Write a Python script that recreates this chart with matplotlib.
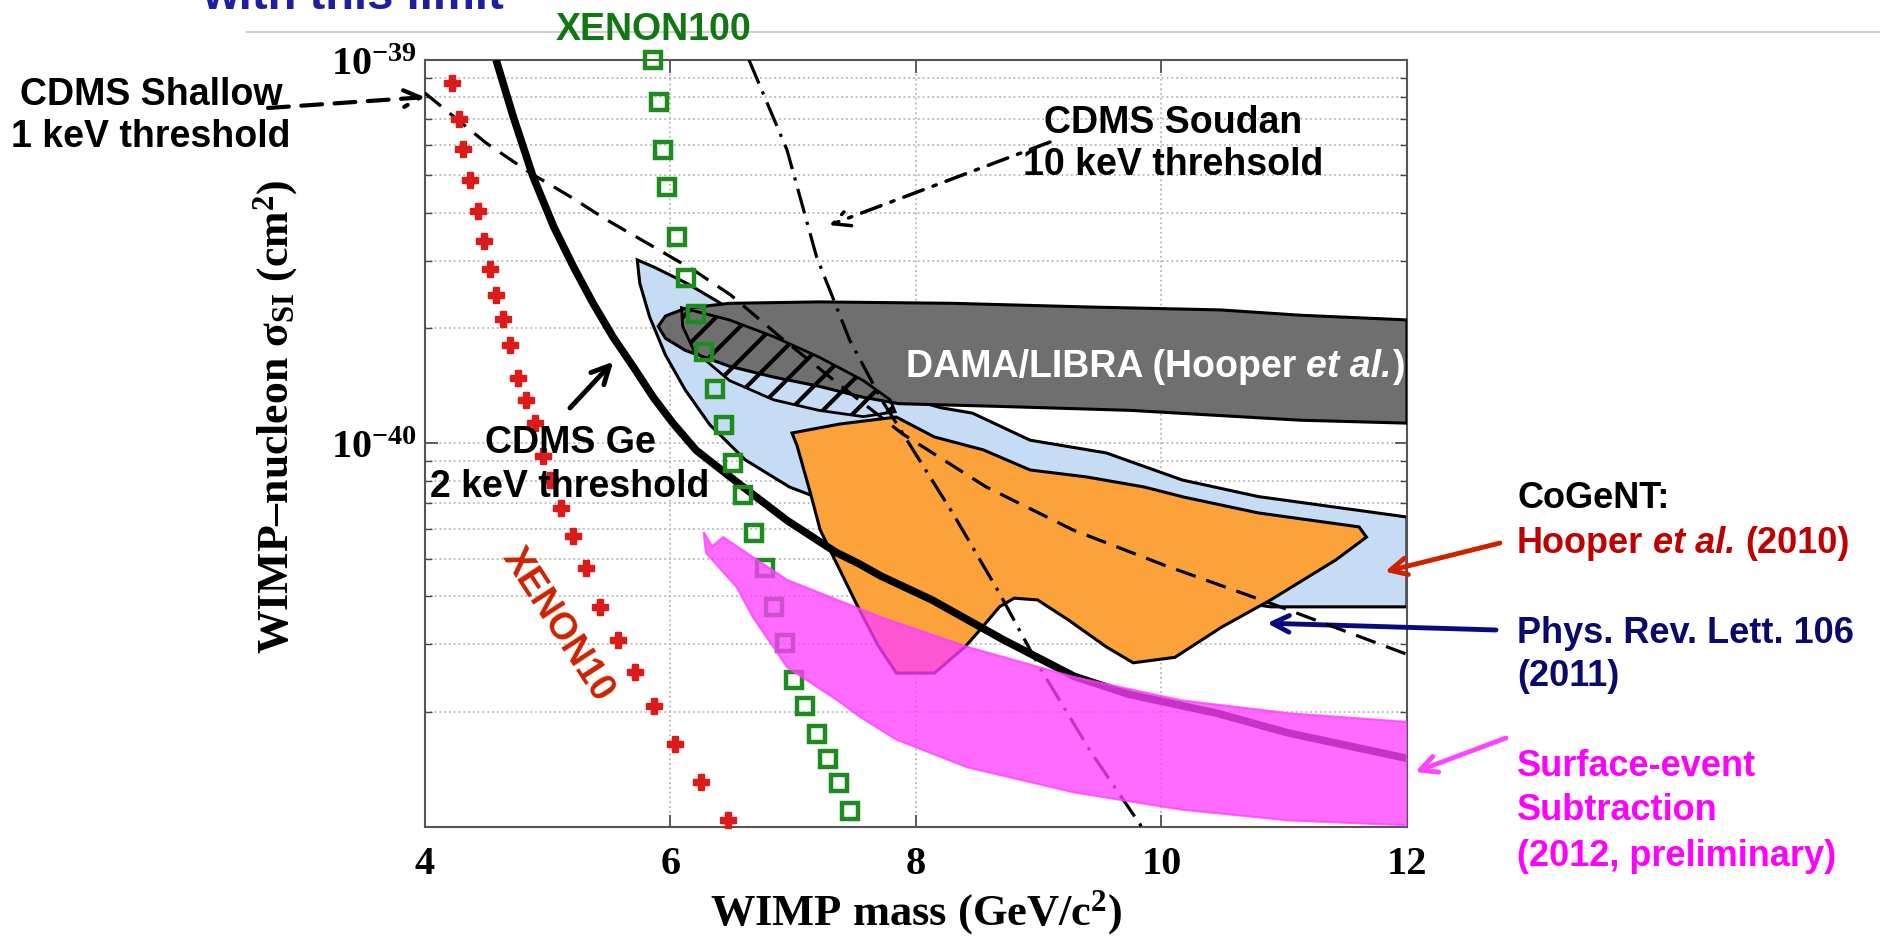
import numpy as np
import matplotlib
matplotlib.use('Agg')
import matplotlib.pyplot as plt
from matplotlib.lines import Line2D
from matplotlib.ticker import NullLocator, NullFormatter

plt.rcParams['font.family'] = ['Liberation Sans', 'DejaVu Sans']
plt.rcParams['font.weight'] = 'bold'
plt.rcParams['mathtext.fontset'] = 'custom'
plt.rcParams['mathtext.rm'] = 'Liberation Serif:bold'
plt.rcParams['mathtext.bf'] = 'Liberation Serif:bold'
plt.rcParams['mathtext.it'] = 'Liberation Serif:italic:bold'
plt.rcParams['mathtext.default'] = 'rm'
plt.rcParams['hatch.linewidth'] = 3.0

S = 1e-40  # all cross sections below are in units of 1e-40 cm^2

# XENON10 (red crosses)
xenon10_mass = [4.22, 4.28, 4.31, 4.37, 4.43, 4.48, 4.53, 4.58, 4.64, 4.69, 4.76, 4.82, 4.90,
                4.96, 5.02, 5.11, 5.21, 5.31, 5.43, 5.57, 5.71, 5.87, 6.04, 6.25, 6.47]
xenon10_sigma = [8.70, 7.02, 5.85, 4.86, 4.04, 3.37, 2.85, 2.44, 2.11, 1.81, 1.48, 1.30, 1.13,
                 0.927, 0.803, 0.678, 0.575, 0.473, 0.375, 0.307, 0.253, 0.207, 0.165, 0.131, 0.104]

# XENON100 (green squares)
xenon100_mass = [5.86, 5.91, 5.94, 5.97, 6.05, 6.13, 6.21, 6.27, 6.36, 6.44, 6.51, 6.59, 6.68,
                 6.77, 6.84, 6.93, 7.01, 7.10, 7.19, 7.28, 7.37, 7.46]
xenon100_sigma = [10.0, 7.78, 5.82, 4.67, 3.46, 2.70, 2.18, 1.73, 1.39, 1.12, 0.888, 0.734, 0.585,
                  0.473, 0.375, 0.301, 0.242, 0.207, 0.175, 0.150, 0.130, 0.110]

# CDMS Ge 2 keV threshold (thick solid)
cdms_ge_mass = [4.58, 4.72, 4.88, 5.05, 5.21, 5.37, 5.53, 5.70, 5.86, 6.02, 6.21, 6.57, 6.95,
                7.35, 7.54, 7.71, 8.13, 8.71, 9.29, 9.73, 10.45, 11.03, 12.0]
cdms_ge_sigma = [10.0, 7.11, 4.97, 3.67, 2.89, 2.32, 1.90, 1.58, 1.32, 1.13, 0.96, 0.78, 0.63,
                 0.52, 0.485, 0.452, 0.391, 0.308, 0.247, 0.222, 0.198, 0.176, 0.151]

# CDMS Shallow 1 keV threshold (dashed)
shallow_mass = [4.0, 4.50, 4.86, 5.18, 5.48, 5.86, 6.19, 6.49, 6.89, 7.38, 7.89, 8.57, 9.28,
                10.02, 10.89, 12.0]
shallow_sigma = [8.2, 6.07, 5.07, 4.41, 3.83, 3.26, 2.83, 2.44, 1.90, 1.42, 1.06, 0.771, 0.595,
                 0.482, 0.383, 0.282]

# CDMS Soudan 10 keV threshold (dash-dot)
soudan_mass = [6.64, 6.95, 7.19, 7.46, 7.72, 7.84, 8.30, 8.68, 9.01, 9.43, 9.84]
soudan_sigma = [10.0, 5.82, 3.07, 1.86, 1.30, 1.13, 0.658, 0.407, 0.260, 0.156, 0.100]

# DAMA/LIBRA region (grey)
dama_mass = [5.90, 5.96, 6.12, 6.48, 7.21, 8.30, 9.39, 10.48, 11.13, 12.0,
             12.0, 11.13, 9.75, 8.66, 7.86, 7.57, 7.21, 6.84, 6.48, 6.12, 5.96]
dama_sigma = [2.02, 2.15, 2.25, 2.32, 2.34, 2.32, 2.27, 2.23, 2.16, 2.10,
              1.13, 1.15, 1.22, 1.25, 1.27, 1.32, 1.41, 1.49, 1.59, 1.75, 1.88]

# DAMA hatched region
hatch_mass = [6.09, 6.48, 6.84, 7.21, 7.57, 7.79, 7.83, 7.57, 7.21, 6.84, 6.48, 6.19, 6.10]
hatch_sigma = [2.26, 2.10, 1.90, 1.68, 1.46, 1.30, 1.21, 1.175, 1.22, 1.30, 1.46, 1.75, 2.02]

# CoGeNT, Phys. Rev. Lett. 106 (light blue)
prl_mass = [5.73, 5.86, 6.13, 6.40, 6.73, 7.22, 7.71, 8.20, 8.46, 8.93, 9.55, 10.17, 10.79, 12.0,
            12.0, 10.89, 9.91, 8.68, 7.87, 7.14, 6.97, 6.61, 6.32, 6.12, 5.96, 5.83, 5.75]
prl_sigma = [3.01, 2.89, 2.62, 2.33, 1.98, 1.65, 1.38, 1.24, 1.20, 1.02, 0.945, 0.803, 0.727, 0.643,
             0.375, 0.375, 0.415, 0.497, 0.595, 0.734, 0.770, 0.906, 1.12, 1.38, 1.70, 2.14, 2.62]

# CoGeNT, Hooper et al. 2010 (orange)
hooper_mass = [6.99, 7.38, 7.84, 8.15, 8.55, 8.93, 9.39, 9.86, 10.18, 10.79, 11.61, 11.67, 11.42,
               10.89, 10.49, 10.11, 9.77, 9.55, 9.24, 8.99, 8.80, 8.68, 8.52, 8.40, 8.15, 7.84,
               7.69, 7.52, 7.38, 7.22, 7.14, 7.03]
hooper_sigma = [1.065, 1.124, 1.172, 1.040, 0.962, 0.853, 0.818, 0.770, 0.725, 0.659, 0.606, 0.570,
                0.497, 0.391, 0.332, 0.277, 0.268, 0.295, 0.347, 0.391, 0.395, 0.375, 0.326, 0.295,
                0.252, 0.252, 0.298, 0.379, 0.468, 0.595, 0.743, 0.991]

# surface-event subtraction (magenta band)
surface_mass = [6.27, 6.34, 6.43, 6.67, 6.95, 7.36, 7.71, 8.42, 9.29, 10.16, 11.04, 12.0,
                12.0, 11.04, 10.16, 9.29, 8.42, 7.84, 7.54, 7.36, 6.95, 6.67, 6.54, 6.29]
surface_sigma = [0.588, 0.540, 0.570, 0.506, 0.441, 0.391, 0.353, 0.295, 0.246, 0.214, 0.198, 0.188,
                 0.101, 0.104, 0.111, 0.123, 0.143, 0.169, 0.194, 0.214, 0.261, 0.353, 0.422, 0.518]

fig = plt.figure(figsize=(18.81, 9.40), dpi=100)
ax = fig.add_axes([0.2259, 0.1202, 0.5221, 0.8160])
ax.set_yscale('log')
ax.set_xlim(4, 12)
ax.set_ylim(1e-41, 1e-39)

def sig(v):
    return np.array(v) * S

# regions
ax.fill(prl_mass, sig(prl_sigma), facecolor='#c6dcf4', edgecolor='black', lw=2.2, zorder=2)
ax.fill(dama_mass, sig(dama_sigma), facecolor='#6f6f6f', edgecolor='black', lw=2.2, zorder=3)
ax.fill(hatch_mass, sig(hatch_sigma), facecolor='none', edgecolor='black', hatch='/', lw=2.0, zorder=3.5)
ax.fill(hooper_mass, sig(hooper_sigma), facecolor='#fba33a', edgecolor='black', lw=2.2, zorder=4)

# limit curves
ax.plot(cdms_ge_mass, sig(cdms_ge_sigma), color='black', lw=5.5, zorder=5, solid_capstyle='butt')
ax.plot(shallow_mass, sig(shallow_sigma), color='black', lw=2.3, dashes=(6.5, 3.5), zorder=5)
ax.plot(soudan_mass, sig(soudan_sigma), color='black', lw=2.3, dashes=(8, 2.7, 1, 2.7), zorder=5)

ax.plot(xenon10_mass, sig(xenon10_sigma), ls='none', marker='P', ms=11, color='#dd1a1a',
        mec='#dd1a1a', zorder=6, clip_on=False)
ax.plot(xenon100_mass, sig(xenon100_sigma), ls='none', marker='s', ms=12, mfc='none',
        mec='#1c8c1c', mew=3.2, zorder=6, clip_on=False)

ax.fill(surface_mass, sig(surface_sigma), facecolor='#ff40ff', edgecolor='#ff40ff', lw=1.5,
        alpha=0.78, zorder=7)

# axes styling
ax.set_axisbelow(True)
ax.grid(True, which='major', axis='x', ls=':', color='#b8b8b8', lw=1.3)
ax.grid(True, which='both', axis='y', ls=':', color='#b8b8b8', lw=1.3)
ax.set_xticks([4, 6, 8, 10, 12])
ax.xaxis.set_minor_locator(NullLocator())
ax.set_yticks([1e-41, 1e-40, 1e-39], ['', r'$10^{-40}$', r'$10^{-39}$'])
ax.yaxis.set_minor_formatter(NullFormatter())
ax.tick_params(axis='both', which='both', direction='in', top=True, right=True, color='#444444')
ax.tick_params(which='major', length=9, width=1.2)
ax.tick_params(which='minor', length=5, width=1.0)
ax.tick_params(axis='x', pad=14, labelsize=29)
ax.tick_params(axis='y', pad=6, labelsize=29)
for lab in ax.get_xticklabels():
    lab.set_fontfamily('Liberation Serif')
    lab.set_fontweight('bold')
for sp in ax.spines.values():
    sp.set_color('#555555')
    sp.set_linewidth(1.5)

ax.set_xlabel(r'WIMP mass (GeV/c$^{2}$)', fontfamily='Liberation Serif', fontweight='bold',
              fontsize=32, va='center')
ax.xaxis.set_label_coords(0.5, -0.112)
ax.set_ylabel(r'WIMP–nucleon σ$_{\rm SI}$ (cm$^{2}$)', fontfamily='Liberation Serif',
              fontweight='bold', fontsize=31.5, va='center')
ax.yaxis.set_label_coords(-0.152, 0.535)


def rich_text(x, y, parts, ha='left', **kw):
    # parts: (text, style, space_before); pieces are laid out side by side on one baseline
    r = fig.canvas.get_renderer()
    W = fig.bbox.width

    def width(s, st='normal'):
        t = fig.text(0, 0, s, style=st, **kw)
        w = t.get_window_extent(r).width
        t.remove()
        return w

    gap = width('H H') - width('HH')
    widths = [width(s, st) for s, st, _ in parts]
    total = sum(widths) + gap * sum(g for _, _, g in parts)
    px = x * W - (total / 2 if ha == 'center' else 0)
    for (s, st, g), w in zip(parts, widths):
        px += gap * g
        fig.text(px / W, y, s, style=st, va='baseline', ha='left', **kw)
        px += w


# slide decorations
fig.add_artist(Line2D([247 / 1881, 1.0], [1 - 32 / 940] * 2, color='#d0d0d0', lw=1.5))
fig.text(0.1877, 0.9905, 'with this limit', color='#1e1ea0', fontsize=34, ha='center', va='baseline')

# annotations
fs = 27
fig.text(0.0803, 0.8883, 'CDMS Shallow', fontsize=fs, ha='center', va='baseline')
fig.text(0.0803, 0.8436, '1 keV threshold', fontsize=fs, ha='center', va='baseline')
ax.annotate('', xy=(4.0, 8.0e-40), xycoords='data', xytext=(0.1425, 0.8851),
            textcoords='figure fraction', annotation_clip=False,
            arrowprops=dict(arrowstyle='->', lw=3, ls=(0, (5, 3)), color='black',
                            mutation_scale=30, shrinkA=0, shrinkB=0))

fig.text(0.3472, 0.9574, 'XENON100', fontsize=fs, color='#117711', ha='center', va='baseline')

fig.text(0.6236, 0.8585, 'CDMS Soudan', fontsize=fs, ha='center', va='baseline')
fig.text(0.6236, 0.8138, '10 keV threhsold', fontsize=fs, ha='center', va='baseline')
ax.annotate('', xy=(7.295, 3.71e-40), xycoords='data', xytext=(0.5582, 0.8489),
            textcoords='figure fraction', annotation_clip=False,
            arrowprops=dict(arrowstyle='->', lw=2.5, ls=(0, (6, 3, 1, 3)), color='black',
                            mutation_scale=30, shrinkA=0, shrinkB=0))

fig.text(0.3030, 0.5181, 'CDMS Ge', fontsize=fs, ha='center', va='baseline', zorder=10)
fig.text(0.3030, 0.4713, '2 keV threshold', fontsize=fs, ha='center', va='baseline', zorder=10)
ax.annotate('', xy=(5.534, 1.634e-40), xycoords='data', xytext=(0.3030, 0.5660),
            textcoords='figure fraction', annotation_clip=False,
            arrowprops=dict(arrowstyle='->', lw=3.5, color='black',
                            mutation_scale=32, shrinkA=0, shrinkB=0))

ax.text(0.2967, 0.3351, 'XENON10', transform=fig.transFigure, fontsize=fs, color='#cc2200',
        rotation=-57, ha='center', va='center', rotation_mode='anchor', zorder=10)

rich_text(0.614, 0.5989, [('DAMA/LIBRA (Hooper', 'normal', 0), ('et al.', 'italic', 1),
                          (')', 'normal', 0)], ha='center', fontsize=fs, color='white', zorder=10)

# right-hand legend
lx = 0.8065
fs2 = 26
fig.text(lx, 0.4596, 'CoGeNT:', fontsize=fs2, color='black', va='baseline')
rich_text(lx, 0.4117, [('Hooper', 'normal', 0), ('et al.', 'italic', 1), ('(2010)', 'normal', 1)],
          fontsize=fs2, color='#c00000')
fig.text(lx, 0.3160, 'Phys. Rev. Lett. 106', fontsize=fs2, color='#0a0a6e', va='baseline')
fig.text(lx, 0.2702, '(2011)', fontsize=fs2, color='#0a0a6e', va='baseline')
fig.text(lx, 0.1745, 'Surface-event', fontsize=fs2, color='#ff00ff', va='baseline')
fig.text(lx, 0.1277, 'Subtraction', fontsize=fs2, color='#ff00ff', va='baseline')
fig.text(lx, 0.0787, '(2012, preliminary)', fontsize=fs2, color='#ff00ff', va='baseline')

ax.annotate('', xy=(11.82, 0.463e-40), xycoords='data', xytext=(0.7974, 0.4223),
            textcoords='figure fraction', annotation_clip=False,
            arrowprops=dict(arrowstyle='->', lw=3.5, color='#cc2200',
                            mutation_scale=30, shrinkA=0, shrinkB=0))
ax.annotate('', xy=(10.86, 0.34e-40), xycoords='data', xytext=(0.7953, 0.3298),
            textcoords='figure fraction', annotation_clip=False,
            arrowprops=dict(arrowstyle='->', lw=3.5, color='#0a0a80',
                            mutation_scale=30, shrinkA=0, shrinkB=0))
ax.annotate('', xy=(0.7523, 0.1787), xycoords='figure fraction', xytext=(0.8006, 0.2149),
            textcoords='figure fraction', annotation_clip=False,
            arrowprops=dict(arrowstyle='->', lw=3.5, color='#ff44ff',
                            mutation_scale=30, shrinkA=0, shrinkB=0))

fig.savefig('out.png', dpi=100)
